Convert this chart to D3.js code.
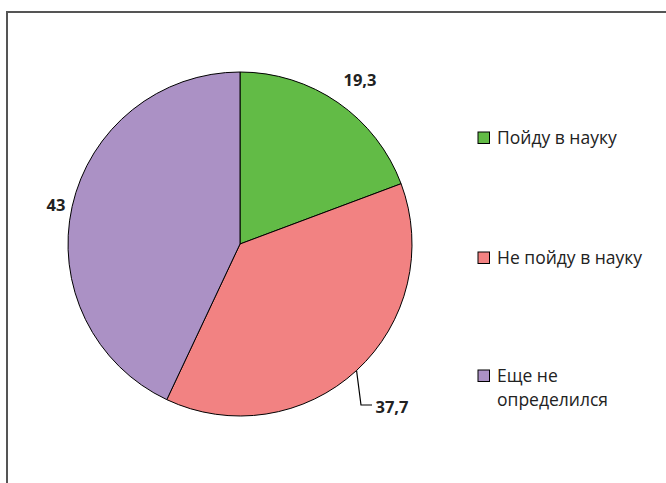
<!DOCTYPE html>
<html>
<head>
<meta charset="utf-8">
<script src="https://cdn.jsdelivr.net/npm/d3@7"></script>
<style>
  html, body { margin: 0; padding: 0; background: #fff; }
  svg { display: block; }
</style>
</head>
<body>
<svg id="chart" width="666" height="483"></svg>
<script>
// Survey answers: will the respondent go into science
const categories = ["Пойду в науку", "Не пойду в науку", "Еще не определился"];
const values = [19.3, 37.7, 43];
const valueLabels = ["19,3", "37,7", "43"];
const colors = ["#62bb46", "#f28282", "#ab91c5"];
const legendLines = [["Пойду в науку"], ["Не пойду в науку"], ["Еще не", "определился"]];

const svg = d3.select("#chart");
const W = 666, H = 483;
const cx = 240, cy = 244, R = 172;
const font = "'Open Sans', 'Noto Sans', sans-serif";

// outer frame (top and left edges visible)
svg.append("path")
  .attr("d", `M7,${H} V12 H${W}`)
  .attr("fill", "none")
  .attr("stroke", "#555")
  .attr("stroke-width", 2);

const pie = d3.pie().sort(null).value(d => d)(values);
const arc = d3.arc().innerRadius(0).outerRadius(R);

const g = svg.append("g").attr("transform", `translate(${cx},${cy})`);
g.selectAll("path.slice")
  .data(pie)
  .join("path")
  .attr("class", "slice")
  .attr("d", arc)
  .attr("fill", (d, i) => colors[i])
  .attr("stroke", "#000")
  .attr("stroke-width", 1);

// value labels outside the slices
const labelPos = [
  { x: 360, y: 80 },
  { x: 392, y: 407 },
  { x: 56, y: 205 }
];
svg.selectAll("text.val")
  .data(pie)
  .join("text")
  .attr("class", "val")
  .attr("x", (d, i) => labelPos[i].x)
  .attr("y", (d, i) => labelPos[i].y)
  .attr("dy", "0.36em")
  .attr("text-anchor", "middle")
  .attr("font-family", font)
  .attr("font-weight", "bold")
  .attr("font-size", 16.5)
  .attr("fill", "#222")
  .text((d, i) => valueLabels[i]);

// leader line for the pink slice label, from the slice's mid angle
{
  const d = pie[1];
  const a = (d.startAngle + d.endAngle) / 2;
  const px = cx + R * Math.sin(a), py = cy - R * Math.cos(a);
  svg.append("path")
    .attr("d", `M${px},${py} L361,405 H372`)
    .attr("fill", "none")
    .attr("stroke", "#000")
    .attr("stroke-width", 1.2);
}

// legend
const legendY = [138, 258, 376];
const lg = svg.append("g");
categories.forEach((c, i) => {
  lg.append("rect")
    .attr("x", 478).attr("y", legendY[i] - 6)
    .attr("width", 11.5).attr("height", 11.5)
    .attr("fill", colors[i])
    .attr("stroke", "#000")
    .attr("stroke-width", 1);
  const t = lg.append("text")
    .attr("font-family", font)
    .attr("font-size", 17.5)
    .attr("fill", "#222");
  legendLines[i].forEach((line, j) => {
    t.append("tspan")
      .attr("x", 497)
      .attr("y", legendY[i] + j * 24)
      .attr("dy", "0.35em")
      .text(line);
  });
});
</script>
</body>
</html>
